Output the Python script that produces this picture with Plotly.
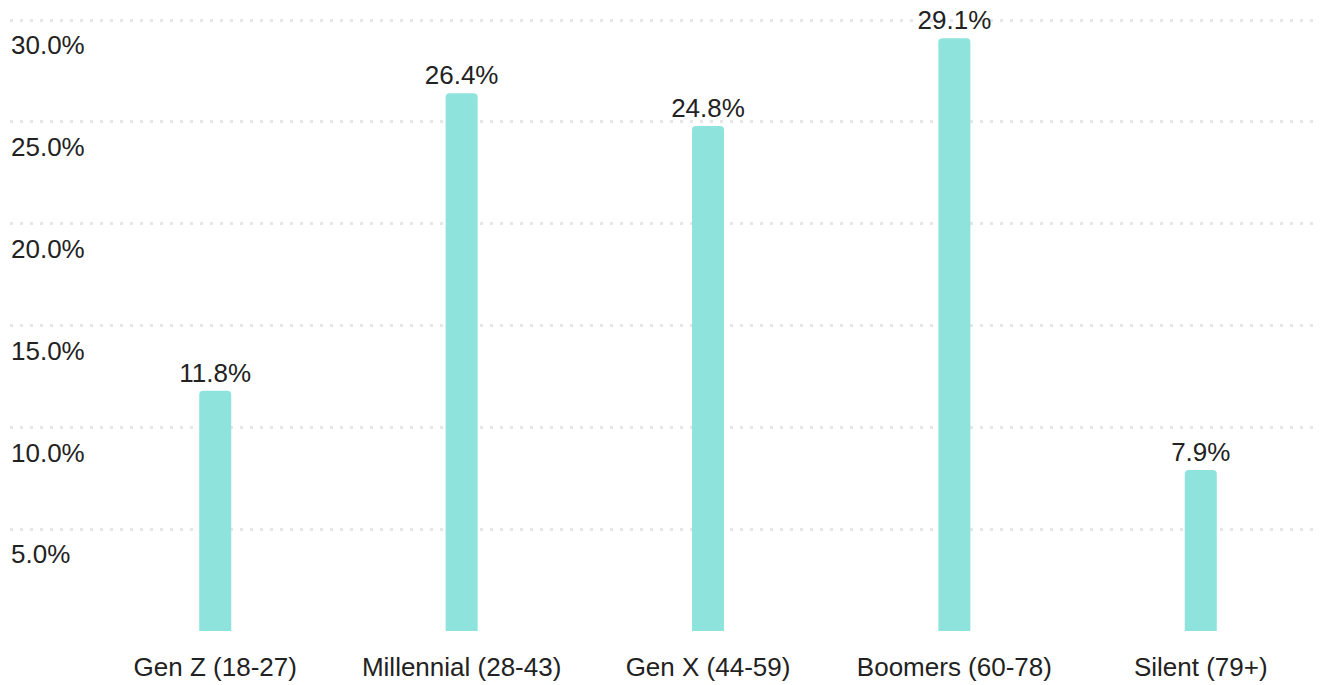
import plotly.graph_objects as go

# Share of respondents by generation
generations = ["Gen Z (18-27)", "Millennial (28-43)", "Gen X (44-59)", "Boomers (60-78)", "Silent (79+)"]
shares = [11.8, 26.4, 24.8, 29.1, 7.9]
tick_vals = [0, 5, 10, 15, 20, 25, 30]
tick_text = ["", "5.0%", "10.0%", "15.0%", "20.0%", "25.0%", "30.0%"]

font = "Liberation Sans, Arial, sans-serif"
ink = "#222222"

fig = go.Figure(
    go.Bar(
        x=generations,
        y=shares,
        text=[f"{v:.1f}%" for v in shares],
        textposition="outside",
        constraintext="none",
        textfont=dict(size=26, color=ink, family=font),
        marker=dict(color="#8ee3dd", line_width=0, cornerradius=4),
        width=0.13,
        cliponaxis=False,
        hoverinfo="skip",
    )
)

# page body has an 8px margin, so the figure is a bit smaller than the window
fig.update_layout(
    width=1319,
    height=677,
    margin=dict(l=2, r=5, t=0, b=54),
    plot_bgcolor="white",
    paper_bgcolor="white",
    font=dict(family=font, size=26, color=ink),
    showlegend=False,
)
fig.update_xaxes(
    range=[-0.833, 4.492],
    showgrid=False,
    showline=False,
    ticks="",
    ticklabelstandoff=18,
    tickfont=dict(size=26, color=ink),
)
fig.update_yaxes(
    range=[0, 30.59],
    tickvals=tick_vals,
    ticktext=tick_text,
    ticklabelposition="inside bottom",
    ticklabelstandoff=-2,
    ticklabelshift=7,
    showgrid=True,
    gridcolor="#e6e6e6",
    gridwidth=3,
    griddash="3px,7px",
    zeroline=False,
    showline=False,
    ticks="",
    tickfont=dict(size=26, color=ink),
)

fig.write_html("out.html")
